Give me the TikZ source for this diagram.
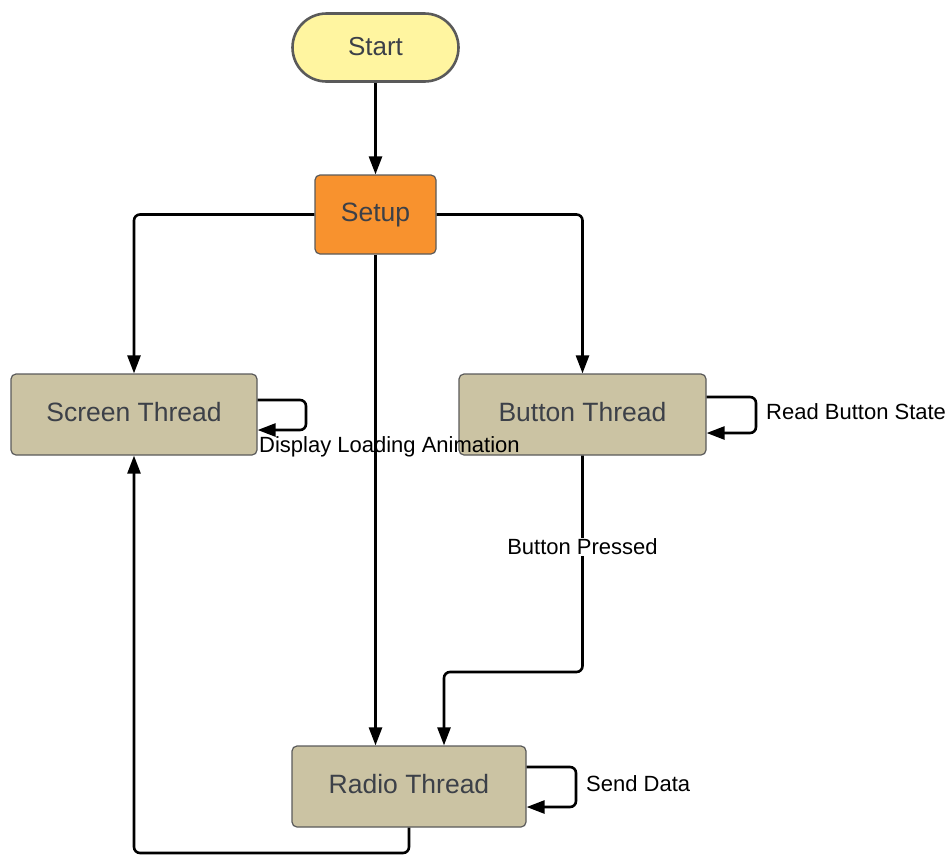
\documentclass[tikz,border=0pt]{standalone}
\usepackage{fontspec}
\setmainfont{Liberation Sans}
\usetikzlibrary{arrows.meta,positioning}
\definecolor{startfill}{HTML}{FFF5A0}
\definecolor{setupfill}{HTML}{F8922E}
\definecolor{threadfill}{HTML}{CBC3A3}
\definecolor{boxline}{HTML}{5A5A5A}
\definecolor{boxtext}{HTML}{3C4048}
\begin{document}
\begin{tikzpicture}[x=1pt,y=-1pt,
  box/.style={draw=boxline,line width=1.2pt,rounded corners=5pt,text=boxtext,font=\fontsize{26.5}{30}\selectfont,inner sep=0pt,text depth=0pt,text height=13pt},
  startbox/.style={draw=boxline,line width=2.6pt,rounded corners=34pt,fill=startfill,text=boxtext,font=\fontsize{26}{30}\selectfont,minimum width=166pt,minimum height=68pt,inner sep=0pt,text depth=0pt,text height=15pt},
  threadbox/.style={box,fill=threadfill,minimum width=246pt,minimum height=81pt},
  conn/.style={line width=2.6pt,rounded corners=6pt,-{Triangle[length=18pt,width=13pt]}},
  lbl/.style={font=\fontsize{22}{26}\selectfont,text=black,inner sep=1pt}
]
\useasboundingbox (0,0) rectangle (949,855);
\node[startbox] (start) at (375.5,47.5) {Start};
\node[box,fill=setupfill,minimum width=121pt,minimum height=79pt] (setup) at (375.5,214.5) {Setup};
\node[threadbox] (screen) at (134,414.5) {Screen Thread};
\node[threadbox,minimum width=247pt] (button) at (582.5,414.5) {Button Thread};
\node[threadbox,minimum width=234pt] (radio) at (409,786.5) {Radio Thread};

\draw[conn] (start.south) -- (setup.north);
\draw[conn] (setup.west) -| (screen.north);
\draw[conn] (setup.east) -| (button.north);
\draw[conn] (setup.south) -- (setup.south |- radio.north);
\coordinate (bp) at (582.5,672);
\coordinate (bq) at (444,672);
\draw[conn] (button.south) -- (bp) -- (bq) -- (bq |- radio.north);
\node[lbl,fill=white] (bplabel) at (582.5,547) {Button Pressed};
\coordinate (ra) at (409,853);
\coordinate (rb) at (134,853);
\draw[conn] (radio.south -| ra) -- (ra) -- (rb) -- (screen.south);

% self loops
\coordinate (s1) at (306,400);
\coordinate (s2) at (306,430);
\draw[conn] (screen.east |- s1) -- (s1) -- (s2) -- (screen.east |- s2);
\node[lbl,anchor=west] (slabel) at (258,447) {Display Loading Animation};

\coordinate (b1) at (756,397);
\coordinate (b2) at (756,433);
\draw[conn] (button.east |- b1) -- (b1) -- (b2) -- (button.east |- b2);
\node[lbl,anchor=west] (blabel) at (765,412) {Read Button State};

\coordinate (r1) at (576,767);
\coordinate (r2) at (576,807);
\draw[conn] (radio.east |- r1) -- (r1) -- (r2) -- (radio.east |- r2);
\node[lbl,anchor=west] (rlabel) at (585,784) {Send Data};
\end{tikzpicture}
\end{document}
